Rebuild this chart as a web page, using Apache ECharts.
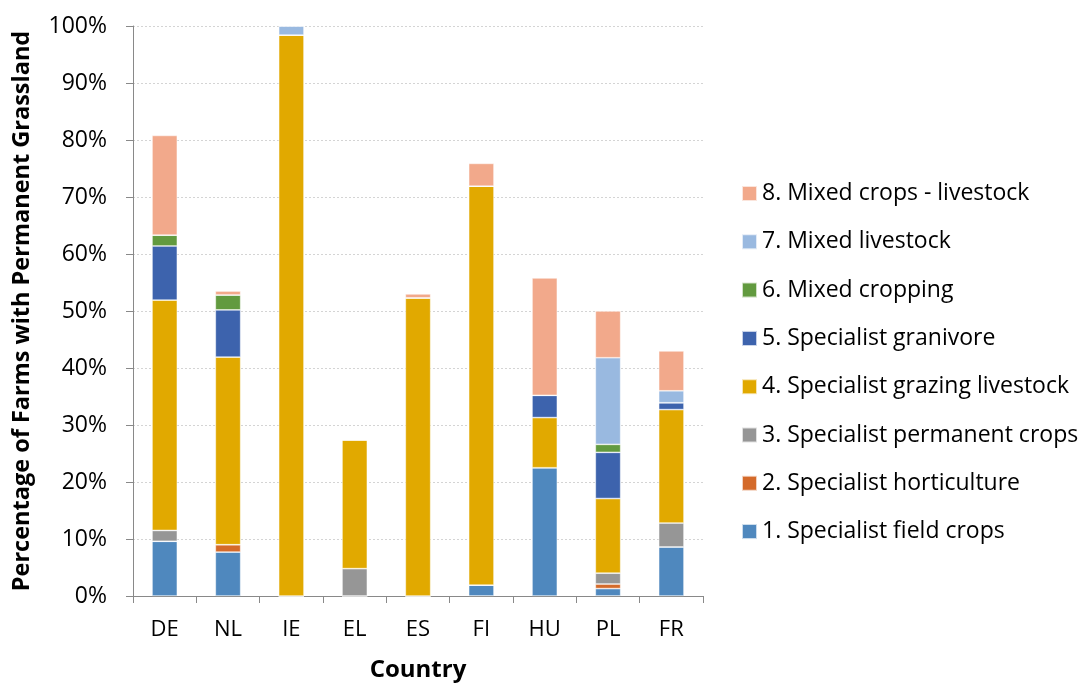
<!DOCTYPE html>
<html>
<head>
<meta charset="utf-8">
<script src="https://cdn.jsdelivr.net/npm/echarts@6/dist/echarts.min.js"></script>
<style>
  html, body { margin: 0; padding: 0; background: #fff; }
  #chart { width: 1080px; height: 684px; }
</style>
</head>
<body>
<div id="chart"></div>
<script>
// Countries on the category axis
const countries = ['DE', 'NL', 'IE', 'EL', 'ES', 'FI', 'HU', 'PL', 'FR'];

// Share of farms with permanent grassland, by farm type (% of farms)
const fieldCrops        = [9.6, 7.7, 0,    0,    0,    1.9,  22.5, 1.3,  8.6];
const horticulture      = [0,   1.3, 0,    0,    0,    0,    0,    0.8,  0];
const permanentCrops    = [1.9, 0,   0,    4.8,  0,    0,    0,    1.9,  4.2];
const grazingLivestock  = [40.4, 32.9, 98.4, 22.6, 52.3, 70.0, 8.8, 13.1, 19.9];
const granivore         = [9.5, 8.3, 0,    0,    0,    0,    3.9,  8.1,  1.2];
const mixedCropping     = [1.9, 2.6, 0,    0,    0,    0,    0,    1.4,  0];
const mixedLivestock    = [0,   0,   1.6,  0,    0,    0,    0,    15.2, 2.1];
const mixedCropsLivest  = [17.5, 0.7, 0,   0,    0.7,  4.0,  20.6, 8.2,  7.0];

const seriesNames = [
  '1. Specialist field crops',
  '2. Specialist horticulture',
  '3. Specialist permanent crops',
  '4. Specialist grazing livestock',
  '5. Specialist granivore',
  '6. Mixed cropping',
  '7. Mixed livestock',
  '8. Mixed crops - livestock'
];
const seriesValues = [fieldCrops, horticulture, permanentCrops, grazingLivestock,
  granivore, mixedCropping, mixedLivestock, mixedCropsLivest];
const seriesColors = ['#4F88BE', '#D46A2A', '#969696', '#E1A900',
  '#3D63AD', '#629A3F', '#99B9E0', '#F2A98B'];

const FONT = '"Open Sans", sans-serif';

const chart = echarts.init(document.getElementById('chart'), null, { renderer: 'canvas' });

chart.setOption({
  animation: false,
  backgroundColor: '#ffffff',
  grid: {
    left: 133, right: 377, top: 26, bottom: 88,
    containLabel: false,
    outerBoundsMode: 'none'
  },
  legend: {
    orient: 'vertical',
    left: 736,
    top: 177,
    itemWidth: 15,
    itemHeight: 15,
    itemGap: 25.3,
    icon: 'rect',
    data: seriesNames.slice().reverse(),
    textStyle: { fontFamily: FONT, fontSize: 23, color: '#000' }
  },
  xAxis: {
    type: 'category',
    data: countries,
    name: 'Country',
    nameLocation: 'middle',
    nameGap: 62,
    nameTextStyle: { fontFamily: FONT, fontSize: 24, fontWeight: 'bold', color: '#000' },
    axisLine: { lineStyle: { color: '#898989', width: 1 } },
    axisTick: { show: true, length: 7, lineStyle: { color: '#898989' } },
    axisLabel: { fontFamily: FONT, fontSize: 22, color: '#000', margin: 23 }
  },
  yAxis: {
    type: 'value',
    min: 0,
    max: 100,
    interval: 10,
    name: 'Percentage of Farms with Permanent Grassland',
    nameLocation: 'middle',
    nameGap: 99,
    nameTextStyle: { fontFamily: FONT, fontSize: 23.5, fontWeight: 'bold', color: '#000' },
    axisLine: { show: true, lineStyle: { color: '#898989', width: 1 } },
    axisTick: { show: true, length: 7, lineStyle: { color: '#898989' } },
    axisLabel: { formatter: '{value}%', fontFamily: FONT, fontSize: 23, color: '#000', margin: 26 },
    splitLine: { show: true, lineStyle: { color: '#d4d4d4', type: [2, 2], width: 1 } }
  },
  series: seriesNames.map((name, i) => ({
    name: name,
    type: 'bar',
    stack: 'total',
    barWidth: '40%',
    data: seriesValues[i],
    itemStyle: { color: seriesColors[i], borderColor: 'rgba(255,255,255,0.7)', borderWidth: 0.7 }
  }))
});
</script>
</body>
</html>
